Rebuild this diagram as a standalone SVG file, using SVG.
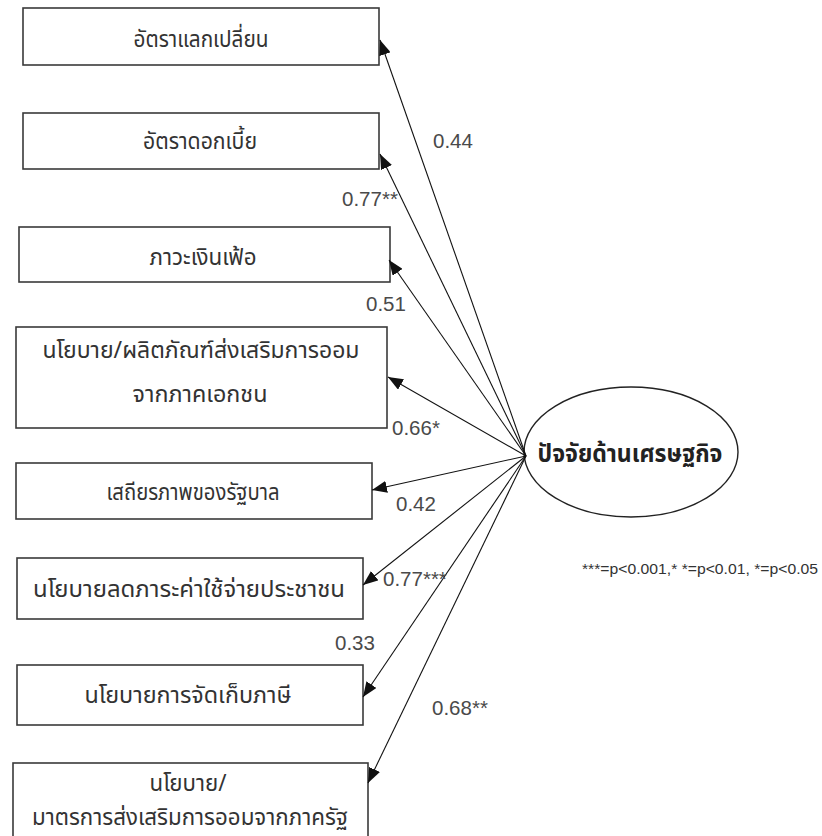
<svg xmlns="http://www.w3.org/2000/svg" width="822" height="836" viewBox="0 0 822 836">
  <style>
    .box { fill: #ffffff; stroke: #3a3a3a; stroke-width: 1.6; }
    .lbl { font-family: "Noto Sans Thai", "Noto Sans", "DejaVu Sans", sans-serif; font-size: 23px; fill: #333333; text-anchor: middle; }
    .num { font-family: "Liberation Sans", "Noto Sans", sans-serif; font-size: 20.5px; fill: #4a4a4a; }
    .edge { stroke: #111111; stroke-width: 1.1; fill: none; marker-end: url(#arr); }
    .latent { fill: #ffffff; stroke: #222222; stroke-width: 1.4; }
    .ltext { font-family: "Noto Sans Thai", "Noto Sans", "DejaVu Sans", sans-serif; font-size: 25px; font-weight: bold; fill: #222222; text-anchor: middle; }
    .note { font-family: "Liberation Sans", Arial, sans-serif; font-size: 14px; fill: #333333; }
  </style>
  <defs>
    <marker id="arr" markerUnits="userSpaceOnUse" markerWidth="16" markerHeight="12" refX="15" refY="6" orient="auto">
      <path d="M0,0 L15,6 L0,12 Z" fill="#111111"/>
    </marker>
  </defs>
  <rect width="822" height="836" fill="#ffffff"/>

  <!-- observed indicators -->
  <g id="n1"><rect class="box" x="23" y="8" width="356" height="57"/><text class="lbl" x="201" y="47" textLength="135" lengthAdjust="spacingAndGlyphs">อัตราแลกเปลี่ยน</text></g>
  <g id="n2"><rect class="box" x="23" y="113" width="356" height="56"/><text class="lbl" x="200" y="149" textLength="114" lengthAdjust="spacingAndGlyphs">อัตราดอกเบี้ย</text></g>
  <g id="n3"><rect class="box" x="19" y="227" width="371" height="55"/><text class="lbl" x="203" y="265" textLength="107" lengthAdjust="spacingAndGlyphs">ภาวะเงินเฟ้อ</text></g>
  <g id="n4"><rect class="box" x="16" y="327" width="371" height="101"/><text class="lbl" x="201" y="358" textLength="317" lengthAdjust="spacingAndGlyphs">นโยบาย/ผลิตภัณฑ์ส่งเสริมการออม</text><text class="lbl" x="200" y="402" textLength="135" lengthAdjust="spacingAndGlyphs">จากภาคเอกชน</text></g>
  <g id="n5"><rect class="box" x="16" y="463" width="356" height="56"/><text class="lbl" x="193" y="500" textLength="173" lengthAdjust="spacingAndGlyphs">เสถียรภาพของรัฐบาล</text></g>
  <g id="n6"><rect class="box" x="17" y="558" width="346" height="61"/><text class="lbl" x="189" y="597" textLength="312" lengthAdjust="spacingAndGlyphs">นโยบายลดภาระค่าใช้จ่ายประชาชน</text></g>
  <g id="n7"><rect class="box" x="17" y="665" width="346" height="60"/><text class="lbl" x="188" y="703" textLength="207" lengthAdjust="spacingAndGlyphs">นโยบายการจัดเก็บภาษี</text></g>
  <g id="n8"><rect class="box" x="13" y="763" width="355" height="90"/><text class="lbl" x="188" y="791" textLength="77" lengthAdjust="spacingAndGlyphs">นโยบาย/</text><text class="lbl" x="190" y="825" textLength="316" lengthAdjust="spacingAndGlyphs">มาตรการส่งเสริมการออมจากภาครัฐ</text></g>

  <!-- latent factor -->
  <g id="latent"><ellipse class="latent" cx="631" cy="452" rx="107" ry="65"/><text class="ltext" x="630" y="462" textLength="185" lengthAdjust="spacingAndGlyphs">ปัจจัยด้านเศรษฐกิจ</text></g>

  <!-- loadings -->
  <g id="edges">
    <line class="edge" x1="526" y1="456" x2="380" y2="40"/>
    <line class="edge" x1="526" y1="456" x2="380" y2="154"/>
    <line class="edge" x1="526" y1="456" x2="389" y2="260"/>
    <line class="edge" x1="526" y1="456" x2="388" y2="377"/>
    <line class="edge" x1="526" y1="456" x2="372" y2="490"/>
    <line class="edge" x1="526" y1="456" x2="363" y2="585"/>
    <line class="edge" x1="526" y1="456" x2="363" y2="697"/>
    <line class="edge" x1="526" y1="456" x2="368" y2="783"/>
  </g>

  <g id="loadings">
    <text class="num" x="433" y="148">0.44</text>
    <text class="num" x="342" y="206">0.77**</text>
    <text class="num" x="366" y="311">0.51</text>
    <text class="num" x="392" y="435">0.66*</text>
    <text class="num" x="396" y="511">0.42</text>
    <text class="num" x="383" y="586">0.77***</text>
    <text class="num" x="335" y="650">0.33</text>
    <text class="num" x="432" y="715">0.68**</text>
  </g>

  <text class="note" x="582" y="574" textLength="236" lengthAdjust="spacingAndGlyphs">***=p&lt;0.001,* *=p&lt;0.01, *=p&lt;0.05</text>
</svg>
